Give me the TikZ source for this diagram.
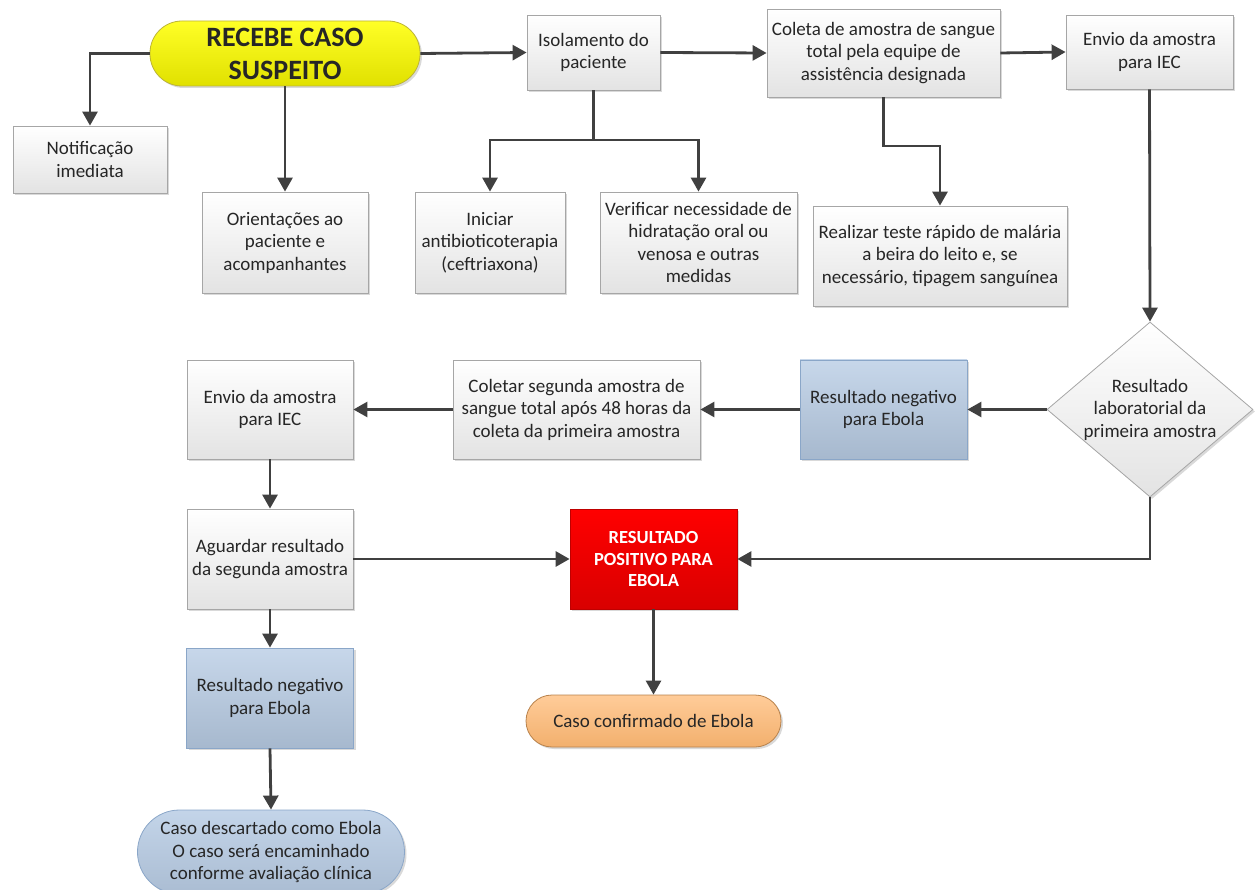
\documentclass[tikz,border=0pt]{standalone}
\usepackage{fontspec}
\setmainfont{Carlito}
\usetikzlibrary{arrows.meta,shapes.geometric,shadows}
\definecolor{seta}{HTML}{404040}
\definecolor{texto}{HTML}{262626}
\definecolor{bordacinza}{HTML}{A6A6A6}
\definecolor{azul}{HTML}{B9CDE5}
\definecolor{bordaazul}{HTML}{8AA6C8}
\begin{document}
\begin{tikzpicture}[x=1pt,y=-1pt,
  sombra/.style={drop shadow={shadow xshift=2pt,shadow yshift=-2pt,opacity=0.25,fill=black!60}},
  caixa/.style={rectangle,draw=bordacinza,line width=0.8pt,top color=white,bottom color=black!11,sombra,
    inner sep=0pt,align=center,text=texto,font=\fontsize{19}{22.5}\selectfont},
  caixaazul/.style={caixa,draw=bordaazul,top color=azul!80!white,bottom color=azul!90!black},
  caixavermelha/.style={caixa,draw=red!75!black,top color=red,bottom color=red!85!black,text=white,
    font=\fontsize{18.5}{21.7}\selectfont\bfseries},
  terminal/.style={caixa,rounded corners=#1},
  decisao/.style={caixa,diamond,shape aspect=1.177,inner sep=-3pt},
  fluxo/.style={draw=seta,line width=2.8pt,-{Triangle[width=15pt,length=14pt]}}]
\useasboundingbox (0,0) rectangle (1259,890);
\node[terminal=32pt,draw=yellow!70!black,top color=yellow!85!white,bottom color=yellow!88!black,
  minimum width=270pt,minimum height=65pt,font=\fontsize{28}{33}\selectfont\bfseries,text=black!85]
  (recebe) at (285,53.5) {RECEBE CASO\\SUSPEITO};
\node[caixa,minimum width=154pt,minimum height=67pt] (notif) at (90,159.5) {Notificação\\imediata};
\node[caixa,minimum width=166pt,minimum height=101pt] (orient) at (285,242.5) {Orientações ao\\paciente e\\acompanhantes};
\node[caixa,minimum width=133pt,minimum height=75pt] (isol) at (593.5,52.5) {Isolamento do\\paciente};
\node[caixa,minimum width=150pt,minimum height=101pt] (inic) at (490,242.5) {Iniciar\\antibioticoterapia\\(ceftriaxona)};
\node[caixa,minimum width=197pt,minimum height=101pt] (verif) at (698.5,242.5) {Verificar necessidade de\\hidratação oral ou\\venosa e outras\\medidas};
\node[caixa,minimum width=233pt,minimum height=88pt] (coleta) at (883.5,53) {Coleta de amostra de sangue\\total pela equipe de\\assistência designada};
\node[caixa,minimum width=167pt,minimum height=74pt] (envio) at (1149.5,52) {Envio da amostra\\para IEC};
\node[caixa,minimum width=254pt,minimum height=100pt] (realiz) at (940,256) {Realizar teste rápido de malária\\a beira do leito e, se\\necessário, tipagem sanguínea};
\node[decisao,minimum width=206pt,minimum height=175pt] (result) at (1150,409.5) {Resultado\\laboratorial da\\primeira amostra};
\node[caixaazul,minimum width=167pt,minimum height=99pt] (neg1) at (883.5,409.5) {Resultado negativo\\para Ebola};
\node[caixa,minimum width=247pt,minimum height=99pt] (coletar) at (576.5,409.5) {Coletar segunda amostra de\\sangue total após 48 horas da\\coleta da primeira amostra};
\node[caixa,minimum width=166pt,minimum height=99pt] (envio2) at (270,409.5) {Envio da amostra\\para IEC};
\node[caixa,minimum width=166pt,minimum height=100pt] (aguard) at (270,559) {Aguardar resultado\\da segunda amostra};
\node[caixavermelha,minimum width=167pt,minimum height=100pt] (posit) at (653.5,559) {RESULTADO\\POSITIVO PARA\\EBOLA};
\node[caixaazul,minimum width=167pt,minimum height=100pt] (neg2) at (270,698) {Resultado negativo\\para Ebola};
\node[terminal=26pt,draw=orange!60!black!70,top color=orange!40!white,bottom color=orange!55!white!95!black,
  minimum width=255pt,minimum height=52pt] (confirm) at (653.5,721) {Caso confirmado de Ebola};
\node[terminal=42pt,draw=bordaazul,top color=azul!85!white,bottom color=azul!92!black,
  minimum width=267pt,minimum height=84pt] (descart) at (271,852) {Caso descartado como Ebola\\O caso será encaminhado\\conforme avaliação clínica};
\coordinate (jisol) at (593.5,140);
\coordinate (jcoleta) at (883.5,146);
\draw[fluxo] (recebe.west) -| (notif.north);
\draw[fluxo] (recebe.south) -- (orient.north);
\draw[fluxo] (recebe.east) -- (isol.west);
\draw[fluxo] (isol.south) -- (jisol) -| (inic.north);
\draw[fluxo] (jisol) -| (verif.north);
\draw[fluxo] (isol.east) -- (coleta.west);
\draw[fluxo] (coleta.east) -- (envio.west);
\draw[fluxo] (coleta.south) -- (jcoleta) -| (realiz.north);
\draw[fluxo] (envio.south) -- (result.north);
\draw[fluxo] (result.west) -- (neg1.east);
\draw[fluxo] (neg1.west) -- (coletar.east);
\draw[fluxo] (coletar.west) -- (envio2.east);
\draw[fluxo] (envio2.south) -- (aguard.north);
\draw[fluxo] (aguard.east) -- (posit.west);
\draw[fluxo] (result.south) |- (posit.east);
\draw[fluxo] (aguard.south) -- (neg2.north);
\draw[fluxo] (neg2.south) -- (descart.north);
\draw[fluxo] (posit.south) -- (confirm.north);
\end{tikzpicture}
\end{document}
